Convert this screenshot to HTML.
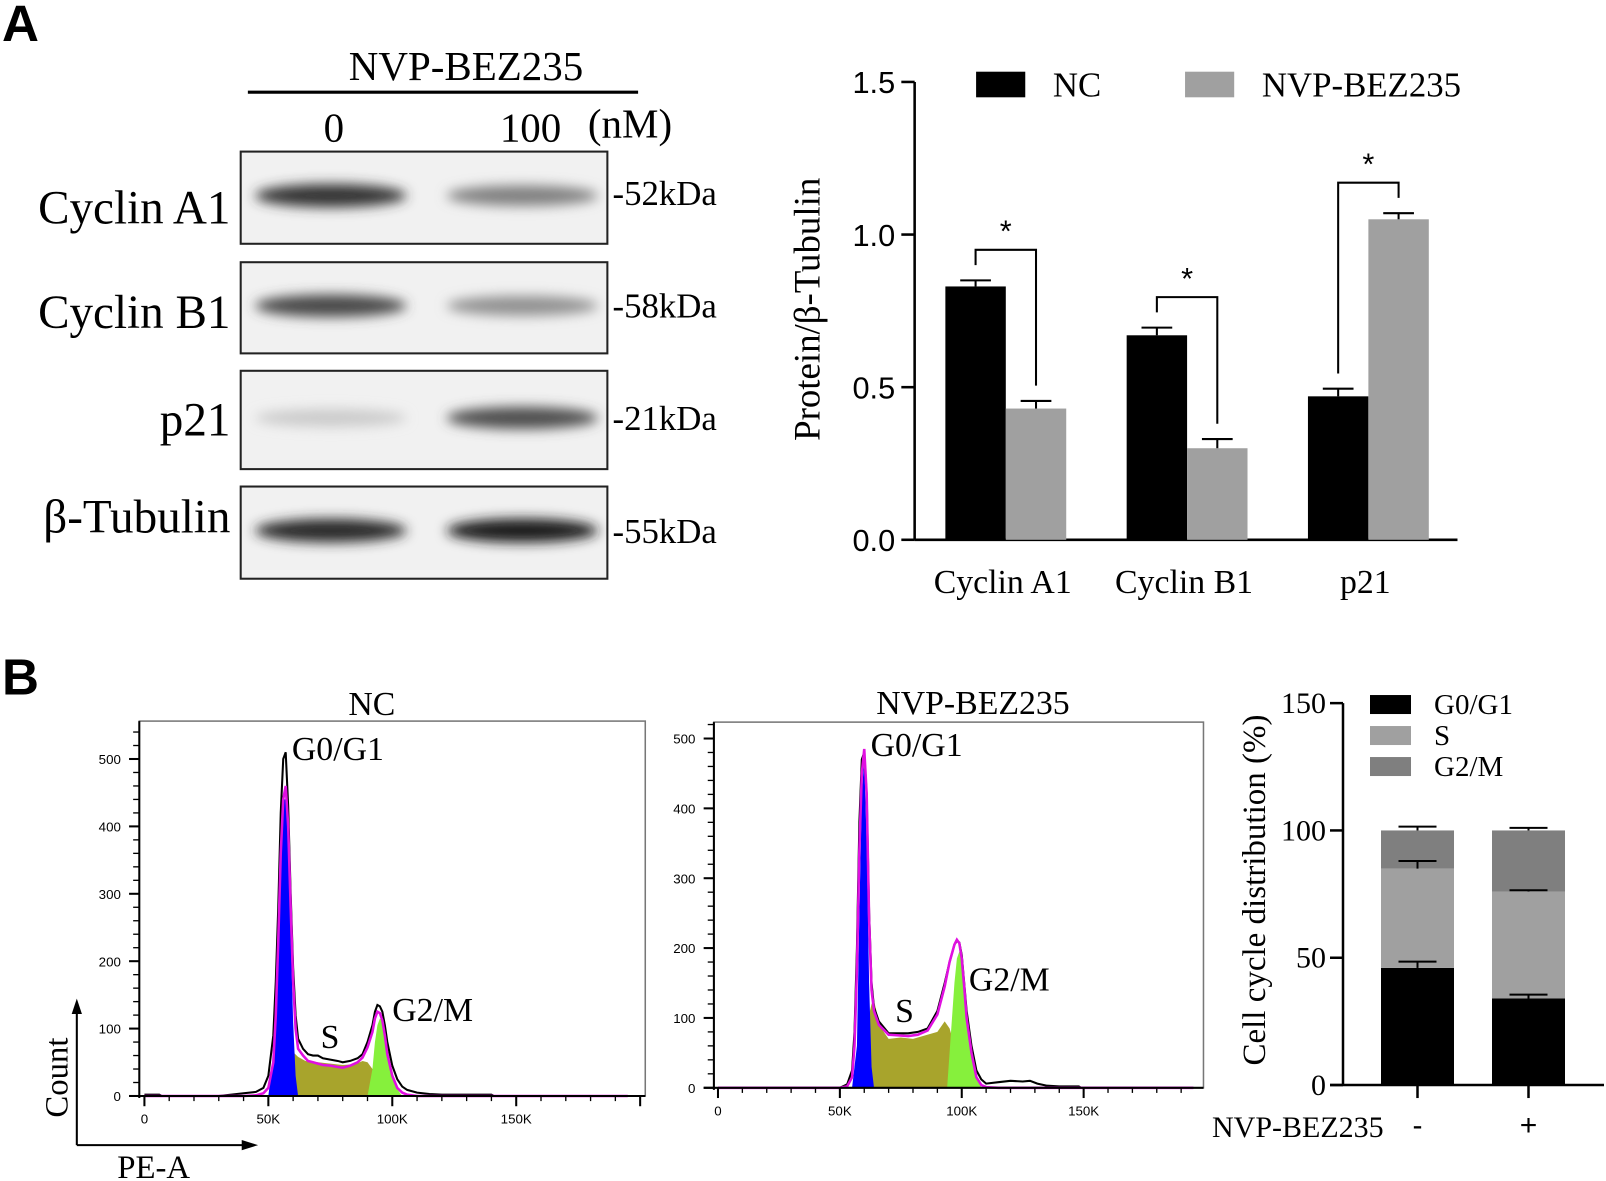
<!DOCTYPE html>
<html><head><meta charset="utf-8"><style>
html,body{margin:0;padding:0;background:#fff;width:1606px;height:1181px;overflow:hidden}
svg{display:block}
.s{font-family:"Liberation Serif",serif}
.a{font-family:"Liberation Sans",sans-serif}
</style></head><body>
<svg id="fig" width="1606" height="1181" viewBox="0 0 1568 1153" preserveAspectRatio="none" xmlns="http://www.w3.org/2000/svg">
<defs><filter id="blur" x="-20%" y="-100%" width="140%" height="300%"><feGaussianBlur stdDeviation="6"/></filter></defs>
<text x="2" y="40" class="a" font-size="50" font-weight="bold">A</text>
<text x="2" y="678" class="a" font-size="50" font-weight="bold">B</text>
<g id="blots">
<text x="455" y="78" class="s" font-size="40" text-anchor="middle">NVP-BEZ235</text>
<line x1="242" y1="90" x2="623" y2="90" stroke="#000" stroke-width="3"/>
<text x="326" y="138" class="s" font-size="40" text-anchor="middle">0</text>
<text x="518" y="138" class="s" font-size="40" text-anchor="middle">100</text>
<text x="574" y="134" class="s" font-size="40">(nM)</text>
</g>
<g id="barA"></g>
<g id="h1"></g>
<g id="h2"></g>
<g>
<line x1="75" y1="1118" x2="75" y2="985" stroke="#000" stroke-width="2"/>
<polygon points="75,975 70,990 80,990" fill="#000"/>
<line x1="75" y1="1118" x2="240" y2="1118" stroke="#000" stroke-width="2"/>
<polygon points="252,1118 236,1113 236,1123" fill="#000"/>
<text transform="translate(66,1052) rotate(-90)" class="s" font-size="32" text-anchor="middle">Count</text>
<text x="150" y="1150" class="s" font-size="32" text-anchor="middle">PE-A</text>
</g>
<g transform="scale(0.97634)"><g id="stack"></g></g>
</svg>
<script>
// ---- Panel A bar chart data ----
const catsA = ["Cyclin A1","Cyclin B1","p21"];
const ncVals = [0.83,0.67,0.47];
const nvpVals = [0.43,0.30,1.05];
const ncErr = [0.02,0.025,0.025];
const nvpErr = [0.025,0.03,0.02];
const yTicksA = [0,0.5,1.0,1.5];
const yTickLabelsA = ["0.0","0.5","1.0","1.5"];
// ---- Blot data ----
const blotLabels = ["Cyclin A1","Cyclin B1","p21","β-Tubulin"];
const kdaLabels = ["-52kDa","-58kDa","-21kDa","-55kDa"];
const bandLeft = [0.85,0.75,0.15,0.9];
const bandRight = [0.5,0.42,0.72,0.95];
// ---- Histogram data NC ----
const ncX = [0,6,7,30,35,40,45,48,50,52,53,54,55,56,57,58,59,60,61,62,64,66,68,70,72,75,78,80,83,86,88,90,92,93,94,95,96,97,98,100,102,104,106,110,115,120,140,141,195];
const ncBlack = [2,2,0,0,2,4,6,12,30,90,170,280,420,500,510,430,300,190,120,85,70,62,60,60,56,54,52,50,52,56,62,80,105,125,135,133,125,105,80,45,25,14,9,5,3,2,2,0,0];
const ncMag = [0,0,0,0,0,0,1,4,12,50,120,230,360,440,460,400,280,170,100,70,60,52,50,48,46,45,43,42,45,50,57,72,95,115,125,123,112,90,62,30,12,5,2,0,0,0,0,0,0];
const ncG1X = [50,52,54,55,56,57,58,59,60,61,62];
const ncG1 = [0,60,250,380,440,440,380,240,110,30,0];
const ncSX = [52,55,58,60,62,65,70,75,80,85,88,90,92,93,94];
const ncS = [0,20,50,65,58,52,50,48,46,47,52,50,40,10,0];
const ncG2X = [90,92,93,94,95,96,97,98,100,102,104];
const ncG2 = [0,40,80,105,115,112,100,75,35,10,0];
// ---- Histogram data NVP ----
const nvX = [0,50,53,55,56,57,58,59,60,61,62,63,64,66,70,74,78,82,86,90,93,95,97,98,99,100,101,102,104,106,108,110,115,120,125,128,131,135,140,148,149,195];
const nvBlack = [0,0,5,25,80,200,380,470,480,420,250,150,115,95,78,78,78,80,85,110,150,180,205,210,208,190,150,110,60,25,12,6,8,10,9,10,6,3,2,2,0,0];
const nvMag = [0,0,2,15,60,170,340,450,485,420,240,140,110,90,76,75,74,76,82,105,145,180,205,212,207,185,145,100,50,15,4,1,0,0,0,0,0,0,0,0,0,0];
const nvG1X = [55,57,58,59,60,61,62,63,64];
const nvG1 = [0,60,250,420,470,350,150,30,0];
const nvSX = [57,59,61,63,64,66,68,70,75,80,85,90,93,95,97,99,101,103];
const nvS = [0,40,90,120,125,95,80,70,72,70,75,80,95,85,60,30,10,0];
const nvG2X = [94,96,97,98,99,100,101,102,104,106,108];
const nvG2 = [0,100,150,185,195,190,160,120,60,20,0];
const histTicksY = [0,100,200,300,400,500];
const histTicksX = [0,50,100,150];
const histTickLabelsX = ["0","50K","100K","150K"];
// ---- Stacked chart data ----
const groupsB = ["-","+"];
const g1Vals = [46,34];
const sVals = [39,42];
const g2Vals = [15,24];
const g1Err = [2.5,1.5];
const sErr = [3,0.5];
const g2Err = [1.5,1];
const yTicksB = [0,50,100,150];

const NS="http://www.w3.org/2000/svg";
function mk(p,t,a,txt){const e=document.createElementNS(NS,t);for(const k in a)e.setAttribute(k,a[k]);if(txt!==undefined)e.textContent=txt;p.appendChild(e);return e;}

// Blots
const blots=document.getElementById('blots');
const rowTop=[148,256,362,475], rowH=[90,89,96,90];
blotLabels.forEach((lab,i)=>{
  const box=mk(blots,'rect',{x:235,y:rowTop[i],width:358,height:rowH[i],fill:'#f1f1f1',stroke:'#222','stroke-width':2});
  
  
  const cy=rowTop[i]+rowH[i]/2;
  [[323,bandLeft[i]],[510,bandRight[i]]].forEach(([cx,v])=>{
    const g=Math.round(235-v*215);
    const b=mk(blots,'ellipse',{cx:cx,cy:cy-2,rx:74,ry:8+v*4,fill:`rgb(${g},${g},${g})`,filter:'url(#blur)'});
    
    
  });
  const t=mk(blots,'text',{x:225,y:[218,320,425,520][i],'text-anchor':'end','font-size':46,class:'s'},lab);
  
  
  const k=mk(blots,'text',{x:598,y:[200,310,420,530][i],'font-size':34,class:'s'},kdaLabels[i]);
  
  
});

// Bar chart A
const bA=document.getElementById('barA');
const yA=v=>527-v*298;
mk(bA,'line',{x1:893,y1:yA(1.5),x2:893,y2:527,stroke:'#000','stroke-width':2.5});
mk(bA,'line',{x1:893,y1:527,x2:1423,y2:527,stroke:'#000','stroke-width':2.5});
yTicksA.forEach((v,i)=>{
  mk(bA,'line',{x1:880,y1:yA(v),x2:893,y2:yA(v),stroke:'#000','stroke-width':2.5});
  const t=mk(bA,'text',{x:874,y:yA(v)+11,'text-anchor':'end','font-size':30,class:'a'},yTickLabelsA[i]);
  
  
});
const yt=mk(bA,'text',{transform:'translate(800,302) rotate(-90)','text-anchor':'middle','font-size':36,class:'s'},'Protein/β-Tubulin');


catsA.forEach((c,i)=>{
  const gx=923+i*177, w=59;
  [[ncVals[i],ncErr[i],'#000',gx],[nvpVals[i],nvpErr[i],'#a0a0a0',gx+w]].forEach(([v,e,col,x],j)=>{
    const r=mk(bA,'rect',{x:x,y:yA(v),width:w,height:527-yA(v),fill:col});
    
    
    mk(bA,'line',{x1:x+w/2,y1:yA(v),x2:x+w/2,y2:yA(v+e),stroke:'#000','stroke-width':2});
    mk(bA,'line',{x1:x+w/2-15,y1:yA(v+e),x2:x+w/2+15,y2:yA(v+e),stroke:'#000','stroke-width':2});
  });
  const top=Math.max(ncVals[i]+ncErr[i],nvpVals[i]+nvpErr[i])+0.1;
  const xl=gx+w/2, xr=gx+w*1.5;
  mk(bA,'polyline',{points:`${xl},${yA(ncVals[i]+ncErr[i]+0.05)} ${xl},${yA(top)} ${xr},${yA(top)} ${xr},${yA(nvpVals[i]+nvpErr[i]+0.05)}`,fill:'none',stroke:'#000','stroke-width':2});
  const st=mk(bA,'text',{x:(xl+xr)/2,y:yA(top)-8,'text-anchor':'middle','font-size':30,class:'a'},'*');
  
  
  const cl=mk(bA,'text',{x:gx+w-3,y:579,'text-anchor':'middle','font-size':33,class:'s'},c);
  
  
});
[[953,'#000',1028,'NC'],[1157,'#a0a0a0',1232,'NVP-BEZ235']].forEach(([x,c,tx,l])=>{
  const r=mk(bA,'rect',{x:x,y:70,width:48,height:25,fill:c});
  
  
  const t=mk(bA,'text',{x:tx,y:94,'font-size':34,class:'s'},l);
  
  
});

// Histograms
function hist(id,cfg,d){
  const g=document.getElementById(id);
  const X=k=>cfg.x0+k*cfg.kx, Y=c=>cfg.y0-c*cfg.ky;
  mk(g,'rect',{x:cfg.l,y:cfg.t,width:cfg.r-cfg.l,height:cfg.y0-cfg.t,fill:'#fff',stroke:'#777','stroke-width':1.5});
  function area(xs,ys,col,name){
    let p=`M${X(xs[0])},${Y(0)}`;xs.forEach((x,i)=>p+=` L${X(x)},${Y(ys[i])}`);p+=` L${X(xs[xs.length-1])},${Y(0)} Z`;
    const e=mk(g,'path',{d:p,fill:col});
    
    
  }
  function line(xs,ys,col,w,name){
    const e=mk(g,'polyline',{points:xs.map((x,i)=>`${X(x)},${Y(ys[i])}`).join(' '),fill:'none',stroke:col,'stroke-width':w});
    
    
  }
  area(d.sx,d.s,'#a8a42c','s-phase-fill');
  area(d.g2x,d.g2,'#86f03c','g2m-fill');
  area(d.g1x,d.g1,'#0000ff','g0g1-fill');
  line(d.x,d.black,'#000',2,'total-curve');
  line(d.x,d.mag,'#e010e0',2.5,'model-curve');
  mk(g,'line',{x1:cfg.l,y1:cfg.t,x2:cfg.l,y2:cfg.y0+2,stroke:'#000','stroke-width':2});
  mk(g,'line',{x1:cfg.l-10,y1:cfg.y0,x2:cfg.r,y2:cfg.y0,stroke:'#000','stroke-width':2});
  for(let c=0;Y(c)>cfg.t;c+=20){const maj=c%100===0;mk(g,'line',{x1:cfg.l-(maj?10:6),y1:Y(c),x2:cfg.l,y2:Y(c),stroke:'#000','stroke-width':maj?2:1.3});}
  histTicksY.forEach(v=>{const t=mk(g,'text',{x:cfg.l-18,y:Y(v)+5,'text-anchor':'end','font-size':13,class:'a'},String(v));
    });
  for(let k=0;X(k)<cfg.r;k+=10){const maj=k%50===0;mk(g,'line',{x1:X(k),y1:cfg.y0,x2:X(k),y2:cfg.y0+(maj?10:5),stroke:'#000','stroke-width':maj?2:1.3});}
  histTicksX.forEach((v,i)=>{const t=mk(g,'text',{x:X(v),y:cfg.y0+27,'text-anchor':'middle','font-size':13,class:'a'},histTickLabelsX[i]);
    });
  const tt=mk(g,'text',{x:cfg.title[0],y:cfg.title[1],'text-anchor':'middle','font-size':33,class:'s'},cfg.title[2]);
  
  cfg.labels.forEach(([x,y,l])=>{const t=mk(g,'text',{x:x,y:y,'font-size':33,class:'s'},l);
    });
}
hist('h1',{x0:141,kx:2.42,y0:1070,ky:0.658,l:136,r:630,t:704,title:[363,698,'NC'],labels:[[285,742,'G0/G1'],[313,1023,'S'],[383,997,'G2/M']]},
  {x:ncX,black:ncBlack,mag:ncMag,g1x:ncG1X,g1:ncG1,sx:ncSX,s:ncS,g2x:ncG2X,g2:ncG2});
hist('h2',{x0:701,kx:2.38,y0:1062,ky:0.682,l:697,r:1175,t:705,title:[950,697,'NVP-BEZ235'],labels:[[850,738,'G0/G1'],[874,998,'S'],[946,967,'G2/M']]},
  {x:nvX,black:nvBlack,mag:nvMag,g1x:nvG1X,g1:nvG1,sx:nvSX,s:nvS,g2x:nvG2X,g2:nvG2});

// Stacked chart (true pixel coords)
const sg=document.getElementById('stack');
const yB=v=>1085-v*2.546;
mk(sg,'line',{x1:1343,y1:yB(150),x2:1343,y2:1085,stroke:'#000','stroke-width':2.5});
mk(sg,'line',{x1:1330,y1:1085,x2:1604,y2:1085,stroke:'#000','stroke-width':2.5});
yTicksB.forEach(v=>{
  mk(sg,'line',{x1:1330,y1:yB(v),x2:1343,y2:yB(v),stroke:'#000','stroke-width':2.5});
  const t=mk(sg,'text',{x:1326,y:yB(v)+10,'text-anchor':'end','font-size':30,class:'s'},String(v));
  
});
const st2=mk(sg,'text',{transform:'translate(1265,890) rotate(-90)','text-anchor':'middle','font-size':33,class:'s'},'Cell cycle distribution (%)');

groupsB.forEach((gname,i)=>{
  const x=1381+i*111,w=73,cx=x+w/2;
  const segs=[[0,g1Vals[i],'#000',g1Err[i],'seg-g0g1'],[g1Vals[i],sVals[i],'#a0a0a0',sErr[i],'seg-s'],[g1Vals[i]+sVals[i],g2Vals[i],'#7f7f7f',g2Err[i],'seg-g2m']];
  segs.forEach(([b,v,c,e,n])=>{
    const r=mk(sg,'rect',{x:x,y:yB(b+v),width:w,height:v*2.546,fill:c});
    
  });
  segs.forEach(([b,v,c,e])=>{
    mk(sg,'line',{x1:cx,y1:yB(b+v),x2:cx,y2:yB(b+v+e),stroke:'#000','stroke-width':2});
    mk(sg,'line',{x1:cx-19,y1:yB(b+v+e),x2:cx+19,y2:yB(b+v+e),stroke:'#000','stroke-width':2});
  });
  mk(sg,'line',{x1:cx,y1:1085,x2:cx,y2:1098,stroke:'#000','stroke-width':2.5});
  const t=mk(sg,'text',{x:cx,y:1135,'text-anchor':'middle','font-size':30,class:'a'},gname);
  
});
const xt=mk(sg,'text',{x:1212,y:1137,'font-size':30,class:'s'},'NVP-BEZ235');

[['#000','G0/G1'],['#a0a0a0','S'],['#7f7f7f','G2/M']].forEach(([c,l],i)=>{
  const r=mk(sg,'rect',{x:1370,y:695+i*31,width:41,height:19,fill:c});
  
  const t=mk(sg,'text',{x:1434,y:714+i*31,'font-size':29,class:'s'},l);
  
});
</script>
</body></html>
